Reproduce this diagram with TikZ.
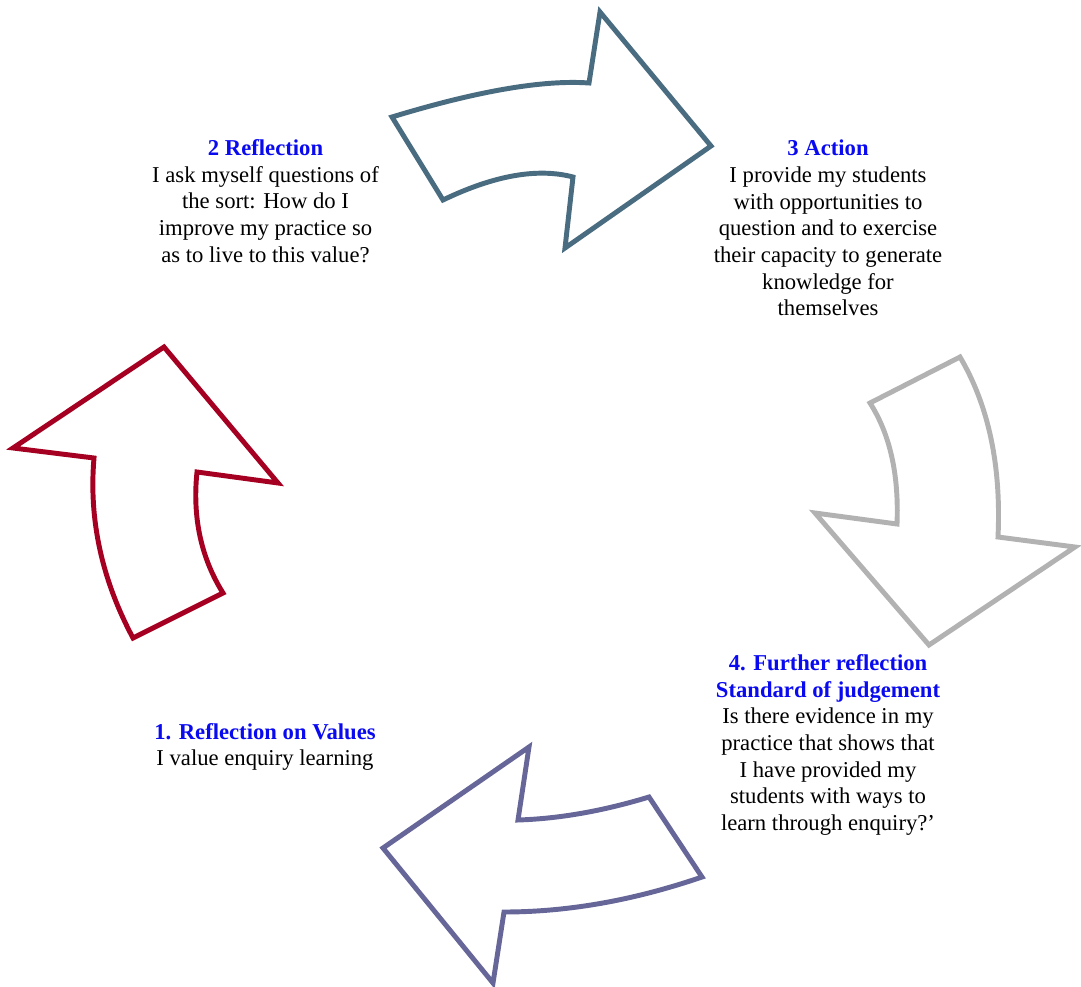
\documentclass[tikz,border=0pt]{standalone}
\usepackage{fontspec}
\setmainfont{Liberation Serif}
\definecolor{steelA}{RGB}{74,108,128}
\definecolor{redA}{RGB}{165,0,33}
\definecolor{grayA}{RGB}{178,178,178}
\definecolor{purpA}{RGB}{102,102,153}
\definecolor{headblue}{RGB}{10,10,240}
\tikzset{
  arrowshape/.style={line width=3.7pt, line join=miter, fill=white},
  label/.style={align=center, inner sep=0pt, font=\fontsize{17}{20}\selectfont}
}
\begin{document}
\begin{tikzpicture}[x=0.75pt,y=-0.75pt]
\useasboundingbox (0,0) rectangle (1081,987);
% top arrow (2 -> 3)
\draw[arrowshape, draw=steelA] (392,117) .. controls (477.3,91) and (543,79.7) .. (589,83)
  -- (600,12) -- (711,146) -- (565,248) -- (573,177)
  .. controls (537.7,167.7) and (494.3,175.3) .. (443,200) -- cycle;
% right arrow (3 -> 4)
\draw[arrowshape, draw=grayA] (870,403) -- (960,357)
  .. controls (988.7,405.7) and (1001.3,465.7) .. (998,537) -- (1075,547) -- (929,645)
  -- (815,513) -- (897,524) .. controls (899,474.7) and (890,434.3) .. cycle;
% bottom arrow (4 -> 1)
\draw[arrowshape, draw=purpA] (383,848) -- (529,747) -- (518,820)
  .. controls (559.3,818.7) and (603,811) .. (649,797) -- (702,877)
  .. controls (634,900.3) and (568,912) .. (504,912) -- (493,983) -- cycle;
% left arrow (1 -> 2)
\draw[arrowshape, draw=redA] (164,347) -- (278,483) -- (197,472)
  .. controls (192.3,517.3) and (201,557.7) .. (223,593) -- (133,638)
  .. controls (101.7,579.3) and (88.7,519.3) .. (94,458) -- (13,448) -- cycle;
% texts
\node[label] (n2) at (265.5,201) {{\color{headblue}\bfseries 2 Reflection}\\I ask myself questions of\\the sort: How do I\\improve my practice so\\as to live to this value?};
\node[label] (n3) at (828,228) {{\color{headblue}\bfseries 3 Action}\\I provide my students\\with opportunities to\\question and to exercise\\their capacity to generate\\knowledge for\\themselves};
\node[label] (n4) at (828,745) {{\color{headblue}\bfseries 4. Further reflection}\\{\color{headblue}\bfseries Standard of judgement}\\Is there evidence in my\\practice that shows that\\I have provided my\\students with ways to\\learn through enquiry?’};
\node[label] (n1) at (265,747) {{\color{headblue}\bfseries 1. Reflection on Values}\\I value enquiry learning};
\end{tikzpicture}
\end{document}
